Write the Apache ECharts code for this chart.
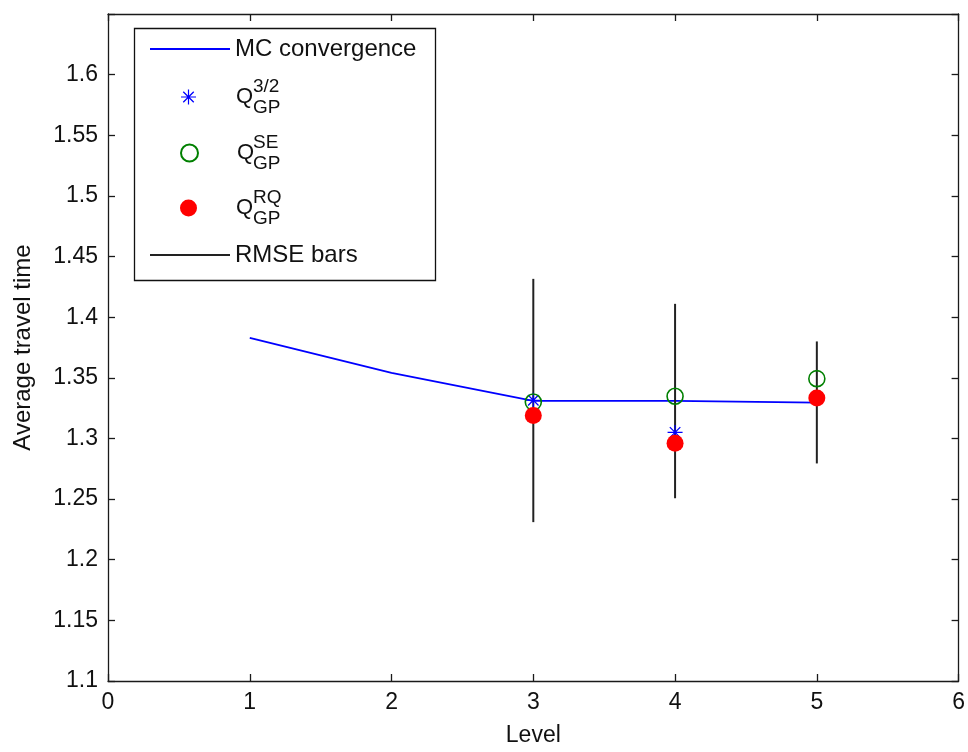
<!DOCTYPE html>
<html>
<head>
<meta charset="utf-8">
<script src="https://cdn.jsdelivr.net/npm/echarts@6/dist/echarts.min.js"></script>
<style>
html,body{margin:0;padding:0;background:#fff;}
#chart{width:968px;height:752px;}
</style>
</head>
<body>
<div id="chart"></div>
<script>
// ---- data ----
var levels = [1, 2, 3, 4, 5];
var mcConvergence = [1.383, 1.354, 1.331, 1.331, 1.3295];
var q32Levels = [3, 4, 5];
var q32Values = [1.3315, 1.305, 1.333];
var qSELevels = [3, 4, 5];
var qSEValues = [1.330, 1.3348, 1.3493];
var qRQLevels = [3, 4, 5];
var qRQValues = [1.319, 1.296, 1.3334];
var barLevels = [3, 4, 5];
var rmseLow = [1.231, 1.2507, 1.2794];
var rmseHigh = [1.4316, 1.411, 1.380];
var xTicks = {min: 0, max: 6, step: 1};
var yTicks = {min: 1.1, max: 1.65, step: 0.05, lastLabel: 1.6};

var FONT = 'Liberation Sans, Arial, sans-serif';
var AX = '#1a1a1a';
var TXT = '#111';
var starPath = 'path://M46 0L54 0L54 100L46 100Z M0 46L100 46L100 54L0 54Z M12 18L18 12L88 82L82 88Z M82 12L88 18L18 88L12 82Z';

function pairs(xs, ys) { return xs.map(function (x, i) { return [x, ys[i]]; }); }

var series = [
  {name: 'MC convergence', type: 'line', data: pairs(levels, mcConvergence), symbol: 'none',
   lineStyle: {color: '#0000ff', width: 1.8}, itemStyle: {color: 'rgba(0,0,255,0)'}, z: 2}
];
barLevels.forEach(function (lv, i) {
  series.push({name: 'RMSE bars', type: 'line', data: [[lv, rmseLow[i]], [lv, rmseHigh[i]]], symbol: 'none',
    lineStyle: {color: '#222222', width: 2}, itemStyle: {color: 'rgba(0,0,0,0)'}, z: 3});
});
series.push({name: 'Q32', type: 'scatter', data: pairs(q32Levels, q32Values), symbol: starPath, symbolSize: 15,
  itemStyle: {color: '#0000ff', opacity: 1}, z: 4});
series.push({name: 'QSE', type: 'scatter', data: pairs(qSELevels, qSEValues), symbol: 'circle', symbolSize: 16,
  itemStyle: {color: 'rgba(0,0,0,0)', borderColor: '#008000', borderWidth: 1.6, opacity: 1}, z: 5});
series.push({name: 'QRQ', type: 'scatter', data: pairs(qRQLevels, qRQValues), symbol: 'circle', symbolSize: 17,
  itemStyle: {color: '#ff0000', opacity: 1}, z: 6});

function lineLegend(name, top) {
  return {
    data: [name], orient: 'vertical', left: 149, top: top, padding: 0,
    itemWidth: 80, itemHeight: 14, selectedMode: false, z: 10,
    itemStyle: {opacity: 0},
    textStyle: {fontFamily: FONT, fontSize: 24, color: TXT}
  };
}
function symLegend(name, cy, size) {
  return {
    data: [name], orient: 'vertical', left: 188.5 - size / 2, top: cy - 11, padding: 0,
    itemWidth: size, itemHeight: size, selectedMode: false, z: 10,
    formatter: function () { return '{g|}{q|Q}'; },
    textStyle: {fontFamily: FONT, fontSize: 22, color: TXT,
      rich: {g: {width: 236 - (188.5 + size / 2) - 5, height: 22}, q: {fontFamily: FONT, fontSize: 22, color: TXT}}}
  };
}
var legends = [
  lineLegend('MC convergence', 37),
  symLegend('Q32', 97, 15),
  symLegend('QSE', 153, 17),
  symLegend('QRQ', 208, 17),
  lineLegend('RMSE bars', 243)
];

function supSub(cy, sup) {
  return [
    {type: 'text', left: 253, top: cy - 20, z: 11, style: {text: sup, font: '19px ' + FONT, fill: TXT}},
    {type: 'text', left: 253, top: cy + 1, z: 11, style: {text: 'GP', font: '19px ' + FONT, fill: TXT}}
  ];
}

var graphics = [
  {type: 'rect', shape: {x: 134.5, y: 28.5, width: 301, height: 252}, z: 9,
   style: {fill: '#fff', stroke: '#111', lineWidth: 1.3}}
].concat(supSub(97, '3/2'), supSub(153, 'SE'), supSub(208, 'RQ'));

function yFmt(v) { return v > yTicks.lastLabel + 1e-6 ? '' : String(+v.toFixed(2)); }

var baseAxis = {
  axisLine: {show: true, onZero: false, lineStyle: {color: AX, width: 1.3}},
  axisTick: {show: true, inside: true, length: 7, lineStyle: {color: AX, width: 1.3}},
  splitLine: {show: false}
};

var option = {
  animation: false,
  backgroundColor: '#fff',
  grid: {left: 108, right: 9, top: 14, bottom: 69, containLabel: false},
  xAxis: [
    Object.assign({}, baseAxis, {type: 'value', min: xTicks.min, max: xTicks.max, interval: xTicks.step, position: 'bottom',
      name: 'Level', nameLocation: 'middle', nameGap: 43,
      nameTextStyle: {fontFamily: FONT, fontSize: 23, color: TXT},
      axisLabel: {margin: 10, fontFamily: FONT, fontSize: 23, color: TXT}}),
    Object.assign({}, baseAxis, {type: 'value', min: xTicks.min, max: xTicks.max, interval: xTicks.step, position: 'top',
      axisLabel: {show: false}})
  ],
  yAxis: [
    Object.assign({}, baseAxis, {type: 'value', min: yTicks.min, max: yTicks.max, interval: yTicks.step, position: 'left',
      name: 'Average travel time', nameLocation: 'middle', nameGap: 73,
      nameTextStyle: {fontFamily: FONT, fontSize: 24, color: TXT},
      axisLabel: {margin: 10, fontFamily: FONT, fontSize: 23, color: TXT, formatter: yFmt}}),
    Object.assign({}, baseAxis, {type: 'value', min: yTicks.min, max: yTicks.max, interval: yTicks.step, position: 'right',
      axisLabel: {show: false}})
  ],
  legend: legends,
  graphic: graphics,
  series: series
};

var chart = echarts.init(document.getElementById('chart'), null, {renderer: 'canvas'});
chart.setOption(option);
</script>
</body>
</html>
